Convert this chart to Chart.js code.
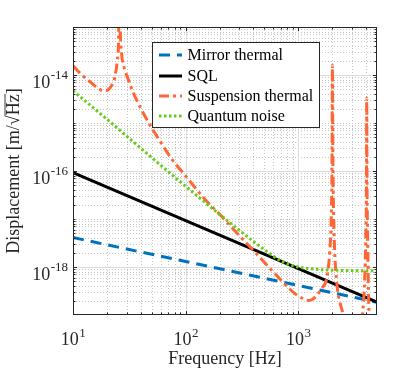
<!DOCTYPE html>
<html>
<head>
<meta charset="utf-8">
<script src="https://cdn.jsdelivr.net/npm/chart.js@4"></script>
<style>
  body { margin: 0; background: #fff; }
  #wrap { width: 416px; height: 370px; }
</style>
</head>
<body>
<div id="wrap"><canvas id="grafico" width="416" height="370"></canvas></div>
<script>
// values (Hz, m/sqrt(Hz))
const mirrorFreq = [10, 5000];
const mirrorThermal = [4.1e-18, 1.85e-19];

const sqlFreq = [10, 5000];
const sqlNoise = [9.2e-17, 1.85e-19];

const suspFreq = [10, 12, 14.2, 16.5, 18.6, 20.5, 22, 23.5, 24.7, 25.4, 25.8, 26.3, 27, 28.5, 30.5, 34,
  40, 50, 60, 75, 100, 150, 200, 300, 400, 600, 900, 1100, 1243, 1400, 1600, 1800, 1900, 1960, 1990,
  2010, 2025, 2050, 2100, 2200, 2350, 2547, 3000, 3500, 3715, 3880, 3980, 4030, 4055, 4080, 4130,
  4200, 4255, 4600, 5000];
const suspThermal = [1.55e-14, 1.0e-14, 7.2e-15, 5.4e-15, 4.7e-15, 4.9e-15, 6.0e-15, 8.9e-15, 2.0e-14, 5.6e-14, 1e-12, 7.9e-14, 2.8e-14, 1.4e-14, 8.9e-15, 4.5e-15,
  2.0e-15, 7.9e-16, 4.0e-16, 1.8e-16, 7.9e-17, 2.5e-17, 1.26e-17, 4.5e-18, 2.2e-18, 7.9e-19, 3.0e-19, 2.2e-19, 2.0e-19, 2.3e-19, 3.5e-19, 6.3e-19, 2.0e-18, 1.0e-17, 1.0e-16,
  1.6e-14, 3.2e-16, 2.5e-17, 2.5e-18, 4.5e-19, 1.8e-19, 8.9e-20, 1e-20, 2.5e-20, 1.0e-19, 5.0e-19, 5.0e-18, 5.0e-17, 3.3e-15, 5.0e-17, 5.0e-18,
  3.2e-19, 1.0e-19, 1.6e-20, 1e-20];

const quantumFreq = [10, 20, 50, 100, 200, 300, 400, 500, 700, 1000, 1500, 2000, 5000];
const quantumNoise = [4.7e-15, 1.2e-15, 1.9e-16, 4.8e-17, 1.25e-17, 5.8e-18, 3.4e-18, 2.3e-18, 1.35e-18, 1.0e-18, 8.9e-19, 8.6e-19, 8.3e-19];

const seriesNames = ['Mirror thermal', 'SQL', 'Suspension thermal', 'Quantum noise'];
const seriesColors = ['#0072bd', '#000000', '#ff6633', '#66cc1a'];
const seriesDash = [[11, 7], [], [10, 4, 3, 4], [2.5, 2.5]];

const xTicks = [10, 100, 1000];
const xTickExp = ['1', '2', '3'];
const yTicks = [1e-18, 1e-16, 1e-14];
const yTickExp = ['-18', '-16', '-14'];

const serif = '"Liberation Serif", "Times New Roman", serif';

const pontos = (fs, vs) => fs.map((f, i) => ({ x: f, y: vs[i] }));

// 1..9 of every decade inside the axis range
function logGrid(min, max) {
  const out = [];
  for (let e = Math.floor(Math.log10(min)); e <= Math.ceil(Math.log10(max)); e++) {
    for (let m = 1; m <= 9; m++) {
      const v = m * Math.pow(10, e);
      if (v > min * 1.0001 && v < max * 0.9999) out.push(v);
    }
  }
  return out;
}

function isMajor(v, majors) {
  return majors.some(t => Math.abs(Math.log10(v) - Math.log10(t)) < 1e-6);
}

const gradePlugin = {
  id: 'grade',
  beforeDatasetsDraw(chart) {
    const { ctx, chartArea: a, scales: { x, y } } = chart;
    const xs = logGrid(x.min, x.max);
    const ys = logGrid(y.min, y.max);
    ctx.save();
    ctx.lineWidth = 1;
    // minor grid, dotted
    ctx.strokeStyle = '#c6c6c6';
    ctx.setLineDash([1, 2]);
    ctx.beginPath();
    xs.filter(v => !isMajor(v, xTicks)).forEach(v => {
      const px = Math.round(x.getPixelForValue(v)) + 0.5;
      ctx.moveTo(px, a.top); ctx.lineTo(px, a.bottom);
    });
    ys.filter(v => !isMajor(v, yTicks)).forEach(v => {
      const py = Math.round(y.getPixelForValue(v)) + 0.5;
      ctx.moveTo(a.left, py); ctx.lineTo(a.right, py);
    });
    ctx.stroke();
    // major grid
    ctx.setLineDash([]);
    ctx.strokeStyle = '#dcdcdc';
    ctx.beginPath();
    xTicks.forEach(v => {
      const px = Math.round(x.getPixelForValue(v)) + 0.5;
      ctx.moveTo(px, a.top); ctx.lineTo(px, a.bottom);
    });
    yTicks.forEach(v => {
      const py = Math.round(y.getPixelForValue(v)) + 0.5;
      ctx.moveTo(a.left, py); ctx.lineTo(a.right, py);
    });
    ctx.stroke();
    ctx.restore();
  },
  afterDatasetsDraw(chart) {
    const { ctx, chartArea: a, scales: { x, y } } = chart;
    const xs = logGrid(x.min, x.max);
    const ys = logGrid(y.min, y.max);
    ctx.save();
    ctx.strokeStyle = '#262626';
    ctx.lineWidth = 1;
    ctx.beginPath();
    // inward ticks on all four sides
    xs.forEach(v => {
      const px = Math.round(x.getPixelForValue(v)) + 0.5;
      const len = isMajor(v, xTicks) ? 4 : 2.5;
      ctx.moveTo(px, a.bottom); ctx.lineTo(px, a.bottom - len);
      ctx.moveTo(px, a.top); ctx.lineTo(px, a.top + len);
    });
    ys.forEach(v => {
      const py = Math.round(y.getPixelForValue(v)) + 0.5;
      const len = isMajor(v, yTicks) ? 4 : 2.5;
      ctx.moveTo(a.left, py); ctx.lineTo(a.left + len, py);
      ctx.moveTo(a.right, py); ctx.lineTo(a.right - len, py);
    });
    ctx.stroke();
    ctx.strokeRect(a.left + 0.5, a.top + 0.5, a.right - a.left - 1, a.bottom - a.top - 1);

    // legend
    const lx = 152.5, ly = 42.5, lw = 167, lh = 85;
    ctx.fillStyle = '#fff';
    ctx.fillRect(lx, ly, lw, lh);
    ctx.strokeRect(lx, ly, lw, lh);
    ctx.font = '16px ' + serif;
    ctx.textBaseline = 'middle';
    ctx.textAlign = 'left';
    const rows = [55, 76, 96, 116];
    seriesNames.forEach((nome, i) => {
      ctx.save();
      ctx.strokeStyle = seriesColors[i];
      ctx.lineWidth = 3;
      ctx.setLineDash(seriesDash[i]);
      ctx.beginPath();
      ctx.moveTo(159, rows[i]);
      ctx.lineTo(182, rows[i]);
      ctx.stroke();
      ctx.restore();
      ctx.fillStyle = '#000';
      ctx.fillText(nome, 187.5, rows[i] + 1);
    });
    ctx.restore();
  },
  afterDraw(chart) {
    const { ctx, chartArea: a, scales: { x, y } } = chart;
    ctx.save();
    ctx.fillStyle = '#262626';
    ctx.textBaseline = 'alphabetic';
    const big = '18px ' + serif, small = '13px ' + serif;
    // x tick labels
    xTicks.forEach((v, i) => {
      ctx.font = big;
      const w1 = ctx.measureText('10').width;
      ctx.font = small;
      const w2 = ctx.measureText(xTickExp[i]).width;
      const left = x.getPixelForValue(v) - (w1 + w2) / 2;
      ctx.textAlign = 'left';
      ctx.font = big;
      ctx.fillText('10', left, 345);
      ctx.font = small;
      ctx.fillText(xTickExp[i], left + w1 + 0.5, 337);
    });
    // y tick labels
    yTicks.forEach((v, i) => {
      const py = y.getPixelForValue(v);
      ctx.font = small;
      const w2 = ctx.measureText(yTickExp[i]).width;
      ctx.font = big;
      const w1 = ctx.measureText('10').width;
      const right = a.left - 5;
      ctx.textAlign = 'left';
      ctx.fillText('10', right - w2 - w1 - 0.5, py + 13);
      ctx.font = small;
      ctx.fillText(yTickExp[i], right - w2, py + 4);
    });
    // axis titles
    ctx.font = big;
    ctx.textAlign = 'center';
    ctx.fillText('Frequency [Hz]', (a.left + a.right) / 2, 364);

    ctx.save();
    ctx.translate(19, (a.top + a.bottom) / 2);
    ctx.rotate(-Math.PI / 2);
    ctx.textAlign = 'left';
    const p1 = 'Displacement [m/', p2 = '\u221A', p3 = 'Hz', p4 = ']';
    const w1 = ctx.measureText(p1).width, w2 = ctx.measureText(p2).width;
    const w3 = ctx.measureText(p3).width, w4 = ctx.measureText(p4).width;
    let cx = -(w1 + w2 + w3 + w4) / 2;
    ctx.fillText(p1, cx, 0); cx += w1;
    ctx.fillText(p2, cx, 0); cx += w2;
    ctx.fillText(p3, cx, 0);
    ctx.strokeStyle = '#262626';
    ctx.lineWidth = 0.9;
    ctx.beginPath();
    ctx.moveTo(cx - 0.5, -14);
    ctx.lineTo(cx + w3 + 0.5, -14);
    ctx.stroke();
    cx += w3;
    ctx.fillText(p4, cx, 0);
    ctx.restore();
    ctx.restore();
  }
};

const ctx = document.getElementById('grafico').getContext('2d');

new Chart(ctx, {
  type: 'line',
  data: {
    datasets: [
      {
        label: seriesNames[0],
        data: pontos(mirrorFreq, mirrorThermal),
        borderColor: seriesColors[0],
        borderWidth: 3,
        borderDash: seriesDash[0],
        order: 4
      },
      {
        label: seriesNames[1],
        data: pontos(sqlFreq, sqlNoise),
        borderColor: seriesColors[1],
        borderWidth: 3,
        order: 3
      },
      {
        label: seriesNames[2],
        data: pontos(suspFreq, suspThermal),
        borderColor: seriesColors[2],
        borderWidth: 3,
        borderDash: seriesDash[2],
        cubicInterpolationMode: 'monotone',
        order: 2
      },
      {
        label: seriesNames[3],
        data: pontos(quantumFreq, quantumNoise),
        borderColor: seriesColors[3],
        borderWidth: 3,
        borderDash: seriesDash[3],
        cubicInterpolationMode: 'monotone',
        order: 1
      }
    ]
  },
  options: {
    responsive: false,
    animation: false,
    devicePixelRatio: 1,
    layout: { padding: { left: 73, top: 27, right: 39, bottom: 55 } },
    plugins: {
      legend: { display: false },
      tooltip: { enabled: false }
    },
    elements: {
      point: { radius: 0 },
      line: { tension: 0, fill: false }
    },
    scales: {
      x: { type: 'logarithmic', min: 10, max: 5000, display: false },
      y: { type: 'logarithmic', min: 1e-19, max: 1e-13, display: false }
    }
  },
  plugins: [gradePlugin]
});
</script>
</body>
</html>
